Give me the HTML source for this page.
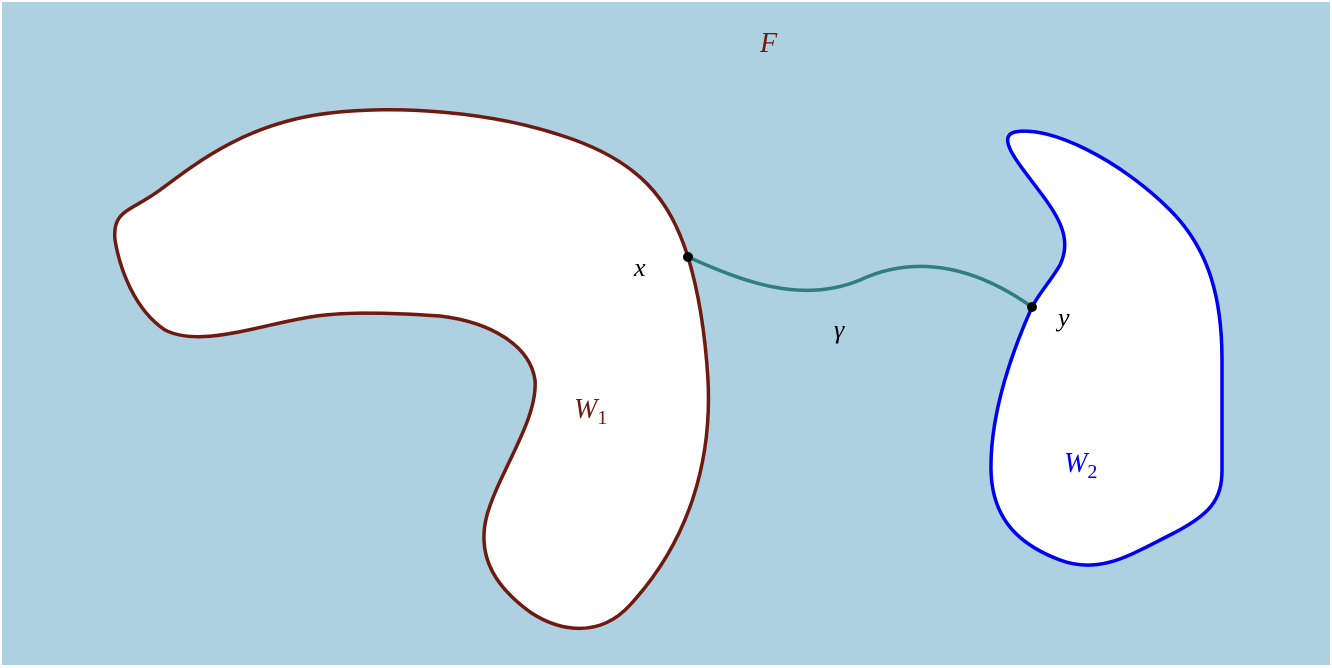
<!DOCTYPE html>
<html><head><style>
html,body{margin:0;padding:0;background:#fff;}
svg{display:block;}
text{font-family:"Liberation Serif",serif;font-style:italic;}
</style></head><body>
<svg width="1332" height="668" viewBox="0 0 1332 668">
<rect x="2" y="2" width="1328" height="663" fill="#ADD1E0"/>
<path d="M688,257 C670,200 640,160 560,135 C490,112 400,105 330,113 C250,122 200,160 160,190 C130,212 112,210 115,240 C120,270 135,310 165,330 C200,348 260,325 310,317 C340,312 380,312 440,316 C490,322 530,345 535,380 C538,420 500,470 487,515 C475,560 500,590 530,612 C560,632 600,638 630,605 C690,540 712,460 708,380 C705,330 698,290 688,257 Z" fill="#fff" stroke="#6E1A10" stroke-width="3.5"/>
<path d="M1032,307 C1015,345 990,410 991,470 C992,520 1020,545 1060,560 C1100,575 1130,555 1170,535 C1210,515 1222,500 1222,470 L1222,360 C1222,300 1210,250 1170,210 C1120,160 1050,125 1015,132 C995,137 1020,165 1040,192 C1060,218 1072,240 1060,265 C1050,282 1040,292 1032,307 Z" fill="#fff" stroke="#0000F0" stroke-width="3.5"/>
<path d="M688,257 C740,280 800,305 860,280 C920,252 980,270 1032,307" fill="none" stroke="#2F7F80" stroke-width="3.5"/>
<circle cx="688" cy="257" r="5" fill="#000"/>
<circle cx="1032" cy="307" r="5" fill="#000"/>
<text x="760" y="52" font-size="28" fill="#6E1A10">F</text>
<text x="634" y="276" font-size="26" fill="#000">x</text>
<text x="1058" y="326" font-size="26" fill="#000">y</text>
<text x="834" y="338" font-size="26" fill="#000">γ</text>
<text x="574" y="418" font-size="28" fill="#6E1A10">W<tspan font-style="normal" font-size="20" dy="6">1</tspan></text>
<text x="1064" y="472" font-size="28" fill="#0000F0">W<tspan font-style="normal" font-size="20" dy="6">2</tspan></text>
</svg>
</body></html>
